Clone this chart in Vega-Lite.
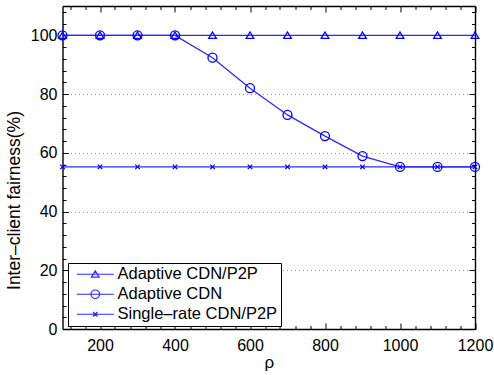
{
  "$schema": "https://vega.github.io/schema/vega-lite/v6.json",
  "width": 412.5,
  "height": 323,
  "autosize": {"type": "none"},
  "padding": {"left": 62.5, "top": 6, "right": 19, "bottom": 46},
  "config": {
    "view": {"stroke": null},
    "font": "Liberation Sans",
    "axis": {
      "labelFont": "Liberation Sans",
      "labelFontSize": 16,
      "labelColor": "#000000",
      "titleFont": "Liberation Sans",
      "titleFontWeight": "normal",
      "titleColor": "#000000",
      "domainColor": "#000000",
      "domainWidth": 1.4,
      "tickColor": "#000000",
      "tickWidth": 1,
      "labelFlush": false,
      "labelOverlap": false
    }
  },
  "data": {
    "values": [
      {"rho": 100, "fairness": 100, "series": "Adaptive CDN/P2P"},
      {"rho": 200, "fairness": 100, "series": "Adaptive CDN/P2P"},
      {"rho": 300, "fairness": 100, "series": "Adaptive CDN/P2P"},
      {"rho": 400, "fairness": 100, "series": "Adaptive CDN/P2P"},
      {"rho": 500, "fairness": 100, "series": "Adaptive CDN/P2P"},
      {"rho": 600, "fairness": 100, "series": "Adaptive CDN/P2P"},
      {"rho": 700, "fairness": 100, "series": "Adaptive CDN/P2P"},
      {"rho": 800, "fairness": 100, "series": "Adaptive CDN/P2P"},
      {"rho": 900, "fairness": 100, "series": "Adaptive CDN/P2P"},
      {"rho": 1000, "fairness": 100, "series": "Adaptive CDN/P2P"},
      {"rho": 1100, "fairness": 100, "series": "Adaptive CDN/P2P"},
      {"rho": 1200, "fairness": 100, "series": "Adaptive CDN/P2P"},
      {"rho": 100, "fairness": 100, "series": "Adaptive CDN"},
      {"rho": 200, "fairness": 100, "series": "Adaptive CDN"},
      {"rho": 300, "fairness": 100, "series": "Adaptive CDN"},
      {"rho": 400, "fairness": 100, "series": "Adaptive CDN"},
      {"rho": 500, "fairness": 92.4, "series": "Adaptive CDN"},
      {"rho": 600, "fairness": 82, "series": "Adaptive CDN"},
      {"rho": 700, "fairness": 72.9, "series": "Adaptive CDN"},
      {"rho": 800, "fairness": 65.7, "series": "Adaptive CDN"},
      {"rho": 900, "fairness": 58.9, "series": "Adaptive CDN"},
      {"rho": 1000, "fairness": 55.2, "series": "Adaptive CDN"},
      {"rho": 1100, "fairness": 55.2, "series": "Adaptive CDN"},
      {"rho": 1200, "fairness": 55.2, "series": "Adaptive CDN"},
      {"rho": 100, "fairness": 55.2, "series": "Single–rate CDN/P2P"},
      {"rho": 200, "fairness": 55.2, "series": "Single–rate CDN/P2P"},
      {"rho": 300, "fairness": 55.2, "series": "Single–rate CDN/P2P"},
      {"rho": 400, "fairness": 55.2, "series": "Single–rate CDN/P2P"},
      {"rho": 500, "fairness": 55.2, "series": "Single–rate CDN/P2P"},
      {"rho": 600, "fairness": 55.2, "series": "Single–rate CDN/P2P"},
      {"rho": 700, "fairness": 55.2, "series": "Single–rate CDN/P2P"},
      {"rho": 800, "fairness": 55.2, "series": "Single–rate CDN/P2P"},
      {"rho": 900, "fairness": 55.2, "series": "Single–rate CDN/P2P"},
      {"rho": 1000, "fairness": 55.2, "series": "Single–rate CDN/P2P"},
      {"rho": 1100, "fairness": 55.2, "series": "Single–rate CDN/P2P"},
      {"rho": 1200, "fairness": 55.2, "series": "Single–rate CDN/P2P"}
    ]
  },
  "resolve": {"axis": {"x": "independent", "y": "independent"}, "scale": {"shape": "independent"}},
  "layer": [
    {
      "mark": {"type": "line", "color": "#2a2aff", "strokeWidth": 1.3, "clip": false},
      "encoding": {
        "x": {
          "field": "rho", "type": "quantitative",
          "scale": {"domain": [100, 1200], "nice": false, "zero": false},
          "axis": {
            "orient": "bottom",
            "values": [200, 400, 600, 800, 1000, 1200],
            "format": "d",
            "title": "ρ",
            "titleFontSize": 17,
            "titlePadding": 1,
            "grid": false,
            "tickSize": -6,
            "labelPadding": 14
          }
        },
        "y": {
          "field": "fairness", "type": "quantitative",
          "scale": {"domain": [0, 110], "nice": false},
          "axis": {
            "orient": "left",
            "values": [0, 20, 40, 60, 80, 100],
            "format": "d",
            "title": "Inter–client fairness(%)",
            "titleFontSize": 17.5,
            "titleX": -48,
            "titleY": 194,
            "titleAngle": 270,
            "titleAlign": "center",
            "titleBaseline": "middle",
            "grid": true,
            "gridColor": "#9a9a9a",
            "gridDash": [1, 3],
            "gridWidth": 1,
            "tickSize": -6,
            "labelPadding": 11.5
          }
        },
        "detail": {"field": "series", "type": "nominal"}
      }
    },
    {
      "mark": {"type": "point", "filled": false, "color": "#0000ff", "strokeWidth": 1.3, "size": 81, "opacity": 1, "clip": false},
      "encoding": {
        "x": {
          "field": "rho", "type": "quantitative",
          "axis": {"orient": "top", "values": [200, 400, 600, 800, 1000, 1200], "labels": false, "title": null, "grid": false, "tickSize": -6}
        },
        "y": {
          "field": "fairness", "type": "quantitative",
          "axis": {"orient": "right", "values": [0, 20, 40, 60, 80, 100], "labels": false, "title": null, "grid": false, "tickSize": -6}
        },
        "shape": {
          "field": "series", "type": "nominal",
          "scale": {
            "domain": ["Adaptive CDN/P2P", "Adaptive CDN", "Single–rate CDN/P2P"],
            "range": ["M0,-0.75L0.85,0.65H-0.85Z", "circle", "M-0.5,-0.5L0.5,0.5M-0.5,0.5L0.5,-0.5"]
          },
          "legend": null
        }
      }
    },
    {
      "mark": {"type": "point", "opacity": 0, "filled": false, "color": "#2a2aff", "strokeWidth": 1.2, "size": 100},
      "encoding": {
        "x": {
          "field": "rho", "type": "quantitative",
          "axis": {"orient": "bottom", "values": [120, 160, 240, 280, 320, 360, 440, 480, 520, 560, 640, 680, 720, 760, 840, 880, 920, 960, 1040, 1080, 1120, 1160], "labels": false, "title": null, "grid": false, "domain": false, "tickSize": -3.5}
        },
        "y": {
          "field": "fairness", "type": "quantitative",
          "axis": {"orient": "left", "values": [4, 8, 12, 16, 24, 28, 32, 36, 44, 48, 52, 56, 64, 68, 72, 76, 84, 88, 92, 96, 104, 108], "labels": false, "title": null, "grid": false, "domain": false, "tickSize": -3.5}
        },
        "shape": {
          "field": "series", "type": "nominal",
          "scale": {
            "domain": ["Adaptive CDN/P2P", "Adaptive CDN", "Single–rate CDN/P2P"],
            "range": [
              "M-3.7,0H3.7M0,-0.68L0.77,0.58H-0.77Z",
              "M-3.7,0H3.7M-0.85,0A0.85,0.85 0 1,1 0.85,0A0.85,0.85 0 1,1 -0.85,0Z",
              "M-3.7,0H3.7M-0.45,-0.45L0.45,0.45M-0.45,0.45L0.45,-0.45"
            ]
          },
          "legend": {
            "title": null,
            "orient": "none",
            "legendX": 5.5,
            "legendY": 257,
            "padding": 3,
            "strokeColor": "#000000",
            "fillColor": "#ffffff",
            "labelFont": "Liberation Sans",
            "labelFontSize": 16.5,
            "labelColor": "#000000",
            "symbolSize": 100,
            "symbolOpacity": 1,
            "symbolStrokeWidth": 1.2,
            "symbolStrokeColor": "#2a2aff",
            "symbolOffset": 16,
            "labelOffset": 14,
            "rowPadding": 3
          }
        }
      }
    },
    {
      "mark": {"type": "point", "opacity": 0},
      "encoding": {
        "x": {
          "field": "rho", "type": "quantitative",
          "axis": {"orient": "top", "values": [120, 160, 240, 280, 320, 360, 440, 480, 520, 560, 640, 680, 720, 760, 840, 880, 920, 960, 1040, 1080, 1120, 1160], "labels": false, "title": null, "grid": false, "domain": false, "tickSize": -3.5}
        },
        "y": {
          "field": "fairness", "type": "quantitative",
          "axis": {"orient": "right", "values": [4, 8, 12, 16, 24, 28, 32, 36, 44, 48, 52, 56, 64, 68, 72, 76, 84, 88, 92, 96, 104, 108], "labels": false, "title": null, "grid": false, "domain": false, "tickSize": -3.5}
        }
      }
    }
  ]
}
